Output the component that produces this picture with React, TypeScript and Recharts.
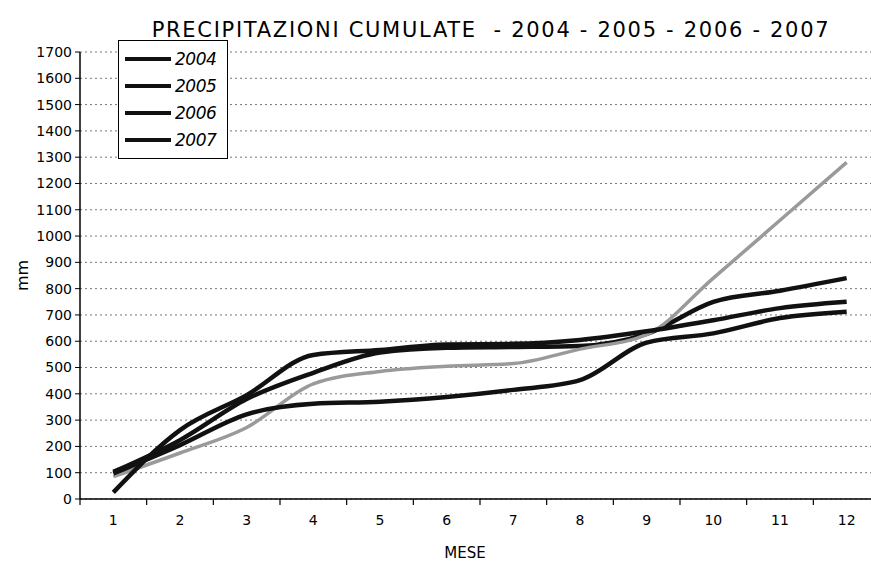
import React from 'react';
import { LineChart, Line, XAxis, YAxis, CartesianGrid, Legend } from 'recharts';

const MONTHS = [1, 2, 3, 4, 5, 6, 7, 8, 9, 10, 11, 12];
const Y_TICKS = [0, 100, 200, 300, 400, 500, 600, 700, 800, 900, 1000, 1100, 1200, 1300, 1400, 1500, 1600, 1700];

const RAIN_2004 = [103, 224, 380, 480, 557, 575, 578, 582, 628, 750, 792, 840];
const RAIN_2005 = [85, 175, 272, 438, 485, 505, 515, 570, 625, 840, 1060, 1280];
const RAIN_2006 = [25, 262, 395, 548, 567, 588, 590, 605, 638, 680, 726, 750];
const RAIN_2007 = [97, 205, 322, 362, 370, 388, 415, 452, 595, 630, 688, 712];

const SERIES = [
  { key: '2004', values: RAIN_2004, color: '#111', width: 4.5 },
  { key: '2005', values: RAIN_2005, color: '#9a9a9a', width: 3.5 },
  { key: '2006', values: RAIN_2006, color: '#111', width: 4.5 },
  { key: '2007', values: RAIN_2007, color: '#111', width: 4.5 },
];

const FONT = '"DejaVu Sans", Verdana, sans-serif';

const data = MONTHS.map((m, i) => {
  const row: Record<string, number> = { mese: m };
  SERIES.forEach(s => { row[s.key] = s.values[i]; });
  return row;
});

// labels on the months, tick marks halfway between them (Excel style)
const xTicks = [MONTHS[0] - 0.5, ...MONTHS.flatMap(m => [m, m + 0.5])];

const XTick = ({ x, y, payload }: any) => {
  const v = payload.value;
  if (Number.isInteger(v)) {
    return (
      <text x={x} y={y} dy="0.71em" textAnchor="middle" fontSize={14} fontFamily={FONT} fill="#000">
        {v}
      </text>
    );
  }
  return <line x1={x} x2={x} y1={y - 16} y2={y - 10} stroke="#000" strokeWidth={1.2} />;
};

const YTitle = ({ viewBox }: any) => {
  const x = viewBox.x + 28;
  const y = viewBox.y + viewBox.height / 2;
  return (
    <text x={x} y={y} transform={`rotate(-90 ${x} ${y})`} textAnchor="middle" fontSize={16} fontFamily={FONT} fill="#000">
      mm
    </text>
  );
};

const LegendBox = ({ payload }: any) => (
  <div style={{ border: '1.5px solid #000', background: '#fff', padding: '4px 6px 5px 6px', width: 96 }}>
    {(payload || []).map((entry: any) => (
      <div key={entry.value} style={{ display: 'flex', alignItems: 'center', height: 27 }}>
        <div style={{ width: 46, height: 4, background: '#111', marginRight: 4 }} />
        <span style={{ fontFamily: FONT, fontStyle: 'italic', fontSize: 17, color: '#000', letterSpacing: -0.5 }}>
          {entry.value}
        </span>
      </div>
    ))}
  </div>
);

export default function App() {
  return (
    <div style={{ position: 'absolute', left: 0, top: 0, width: 871, height: 566, overflow: 'hidden', background: '#fff' }}>
      <div
        style={{
          position: 'absolute', left: 100, width: 782, top: 18, textAlign: 'center',
          fontFamily: FONT, fontSize: 21, whiteSpace: 'pre', color: '#000', letterSpacing: 1.7,
        }}
      >
        PRECIPITAZIONI CUMULATE  - 2004 - 2005 - 2006 - 2007
      </div>
      <LineChart width={885} height={566} data={data} margin={{ top: 52, right: 5, bottom: 0, left: 0 }}>
        <CartesianGrid horizontal vertical={false} stroke="#777" strokeDasharray="2 3" />
        <XAxis
          dataKey="mese"
          type="number"
          domain={[0.5, 12.5]}
          ticks={xTicks}
          interval={0}
          tick={<XTick />}
          tickLine={false}
          tickSize={6}
          tickMargin={10}
          height={67}
          axisLine={{ stroke: '#000', strokeWidth: 1.5 }}
          label={{ value: 'MESE', position: 'insideBottom', offset: 8, dx: -15, fontSize: 15, fontFamily: FONT, fill: '#000' }}
        />
        <YAxis
          domain={[0, 1700]}
          ticks={Y_TICKS}
          interval={0}
          width={80}
          tickSize={5}
          tickMargin={3}
          axisLine={{ stroke: '#000', strokeWidth: 1.5 }}
          tickLine={{ stroke: '#000' }}
          tick={{ fontSize: 14, fontFamily: FONT, fill: '#000' }}
          label={<YTitle />}
        />
        <Legend
          layout="vertical"
          align="center"
          verticalAlign="middle"
          content={<LegendBox />}
          wrapperStyle={{ left: 118, top: 40, width: 'auto', height: 'auto' }}
        />
        {SERIES.map(s => (
          <Line
            key={s.key}
            type="monotone"
            dataKey={s.key}
            name={s.key}
            stroke={s.color}
            strokeWidth={s.width}
            dot={false}
            activeDot={false}
            isAnimationActive={false}
          />
        ))}
      </LineChart>
    </div>
  );
}
